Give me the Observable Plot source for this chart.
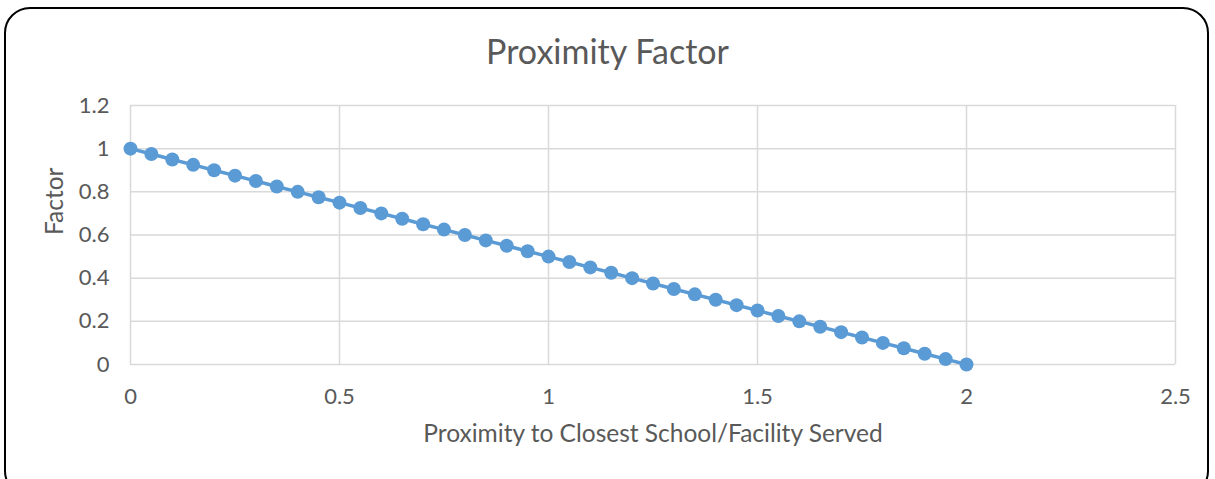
<!DOCTYPE html>
<html>
<head>
<meta charset="utf-8">
<script src="https://cdn.jsdelivr.net/npm/d3@7"></script>
<script src="https://cdn.jsdelivr.net/npm/@observablehq/plot@0.6"></script>
<style>
  html, body { margin: 0; padding: 0; background: #fff; overflow: hidden; }
  #wrap { position: relative; width: 1215px; height: 479px; font-family: Lato, "Open Sans", sans-serif; }
  #frame { position: absolute; left: 4px; top: 7px; width: 1205px; height: 490px; border: 2px solid #000; border-radius: 26px; box-sizing: border-box; }
  #title { position: absolute; left: 0; width: 1215px; top: 31px; line-height: 40px; text-align: center; font-size: 34px; color: #595959; }
  #chart { position: absolute; left: 0; top: 0; }
</style>
</head>
<body>
<div id="wrap">
  <div id="frame"></div>
  <div id="chart"></div>
  <div id="title">Proximity Factor</div>
</div>
<script>
const proximity = [0, 0.05, 0.1, 0.15, 0.2, 0.25, 0.3, 0.35, 0.4, 0.45, 0.5, 0.55, 0.6, 0.65, 0.7, 0.75, 0.8, 0.85, 0.9, 0.95, 1, 1.05, 1.1, 1.15, 1.2, 1.25, 1.3, 1.35, 1.4, 1.45, 1.5, 1.55, 1.6, 1.65, 1.7, 1.75, 1.8, 1.85, 1.9, 1.95, 2];
const factor = [1, 0.975, 0.95, 0.925, 0.9, 0.875, 0.85, 0.825, 0.8, 0.775, 0.75, 0.725, 0.7, 0.675, 0.65, 0.625, 0.6, 0.575, 0.55, 0.525, 0.5, 0.475, 0.45, 0.425, 0.4, 0.375, 0.35, 0.325, 0.3, 0.275, 0.25, 0.225, 0.2, 0.175, 0.15, 0.125, 0.1, 0.075, 0.05, 0.025, 0];
const xTicks = [0, 0.5, 1, 1.5, 2, 2.5];
const yTicks = [0, 0.2, 0.4, 0.6, 0.8, 1, 1.2];
const xLabel = "Proximity to Closest School/Facility Served";
const yLabel = "Factor";

const data = proximity.map((x, i) => ({x, y: factor[i]}));
const blue = "#5b9bd5";
const grid = "#d9d9d9";
const textColor = "#595959";

const chart = Plot.plot({
  width: 1215,
  height: 479,
  marginLeft: 130,
  marginRight: 40,
  marginTop: 105,
  marginBottom: 115,
  style: { fontFamily: "Lato, 'Open Sans', sans-serif", background: "transparent", overflow: "visible" },
  x: { domain: [0, 2.5], ticks: xTicks, label: null },
  y: { domain: [0, 1.2], ticks: yTicks, label: null },
  marks: [
    Plot.gridX(xTicks, { stroke: grid, strokeOpacity: 1, strokeWidth: 1.5 }),
    Plot.gridY(yTicks, { stroke: grid, strokeOpacity: 1, strokeWidth: 1.5 }),
    Plot.axisX(xTicks, { tickSize: 0, tickPadding: 24, fontSize: 22, fill: textColor, tickFormat: d => String(d) }),
    Plot.axisY(yTicks, { tickSize: 0, tickPadding: 21, fontSize: 22, fill: textColor, tickFormat: d => String(d) }),
    Plot.text([xLabel], { frameAnchor: "bottom", dy: 77, fontSize: 24.5, fill: textColor }),
    Plot.text([yLabel], { frameAnchor: "left", dx: -75, rotate: -90, fontSize: 24.5, fill: textColor }),
    Plot.line(data, { x: "x", y: "y", stroke: blue, strokeWidth: 3.5 }),
    Plot.dot(data, { x: "x", y: "y", r: 7, fill: blue, stroke: "none" })
  ]
});
document.getElementById("chart").appendChild(chart);
</script>
</body>
</html>
